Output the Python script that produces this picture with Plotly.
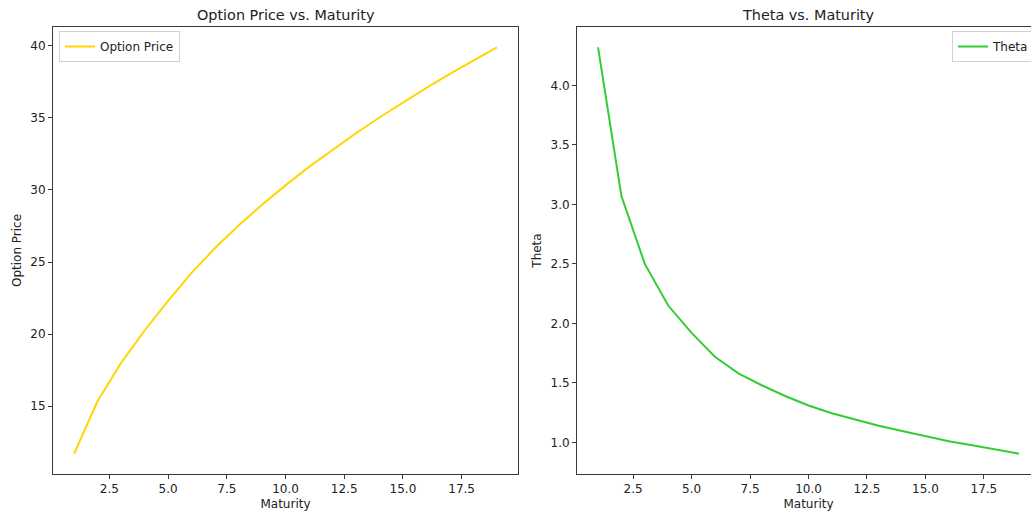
import plotly.graph_objects as go

# Option maturities (years) and the curves computed for each
maturity = list(range(1, 20))
option_price = [11.7, 15.35, 18.0, 20.25, 22.3, 24.25, 25.97, 27.53, 28.97, 30.32,
                31.6, 32.8, 33.94, 35.03, 36.08, 37.09, 38.06, 39.0, 39.9]
theta = [4.32, 3.07, 2.50, 2.15, 1.92, 1.72, 1.58, 1.48, 1.39, 1.31,
         1.245, 1.19, 1.14, 1.095, 1.05, 1.01, 0.975, 0.94, 0.905]

x_ticks = [2.5, 5.0, 7.5, 10.0, 12.5, 15.0, 17.5]
price_ticks = [15, 20, 25, 30, 35, 40]
theta_ticks = [1.0, 1.5, 2.0, 2.5, 3.0, 3.5, 4.0]

PRICE_COLOR = "#FFD700"
THETA_COLOR = "#32CD32"
FONT = "DejaVu Sans"
TEXT = "#222222"
SPINE = "#3a3a3a"


def padded(values, frac=0.05):
    lo, hi = min(values), max(values)
    pad = (hi - lo) * frac
    return [lo - pad, hi + pad]


W, H = 1050, 516
ML, MR, MT, MB = 53, 10, 27, 42
plot_w = W - ML - MR
plot_h = H - MT - MB
left_dom = [0.0, 465 / plot_w]
right_dom = [524 / plot_w, 1.0]

fig = go.Figure()
fig.add_trace(go.Scatter(x=maturity, y=option_price, mode="lines", name="Option Price",
                         line=dict(color=PRICE_COLOR, width=2), xaxis="x", yaxis="y",
                         legend="legend"))
fig.add_trace(go.Scatter(x=maturity, y=theta, mode="lines", name="Theta",
                         line=dict(color=THETA_COLOR, width=2), xaxis="x2", yaxis="y2",
                         legend="legend2"))

axis_common = dict(showline=True, linecolor=SPINE, linewidth=1, mirror=True,
                   ticks="outside", ticklen=4, tickwidth=1, tickcolor=SPINE,
                   showgrid=False, zeroline=False,
                   tickfont=dict(family=FONT, size=12, color=TEXT))

fig.update_layout(
    width=W, height=H,
    margin=dict(l=ML, r=MR, t=MT, b=MB, autoexpand=False),
    paper_bgcolor="white", plot_bgcolor="white",
    font=dict(family=FONT, size=12, color=TEXT),
    xaxis=dict(domain=left_dom, range=padded(maturity), tickvals=x_ticks,
               tickformat=".1f", anchor="y",
               title=dict(text="Maturity", standoff=4, font=dict(size=12)),
               **axis_common),
    yaxis=dict(domain=[0, 1], range=padded(option_price), tickvals=price_ticks,
               anchor="x",
               title=dict(text="Option Price", standoff=6, font=dict(size=12)),
               **axis_common),
    xaxis2=dict(domain=right_dom, range=padded(maturity), tickvals=x_ticks,
                tickformat=".1f", anchor="y2",
                title=dict(text="Maturity", standoff=4, font=dict(size=12)),
                **axis_common),
    yaxis2=dict(domain=[0, 1], range=padded(theta), tickvals=theta_ticks,
                tickformat=".1f", anchor="x2",
                title=dict(text="Theta", standoff=6, font=dict(size=12)),
                **axis_common),
    legend=dict(x=6 / plot_w, y=1 - 4 / plot_h, xanchor="left", yanchor="top",
                bgcolor="rgba(255,255,255,0.8)", bordercolor="#d0d0d0", borderwidth=1,
                font=dict(family=FONT, size=12, color=TEXT)),
    legend2=dict(x=(plot_w - 5) / plot_w, y=1 - 4 / plot_h, xanchor="right", yanchor="top",
                 bgcolor="rgba(255,255,255,0.8)", bordercolor="#d0d0d0", borderwidth=1,
                 font=dict(family=FONT, size=12, color=TEXT)),
    showlegend=True,
    annotations=[
        dict(text="Option Price vs. Maturity", x=sum(left_dom) / 2, y=1,
             xref="paper", yref="paper", xanchor="center", yanchor="middle",
             yshift=12, showarrow=False, font=dict(family=FONT, size=14.4, color=TEXT)),
        dict(text="Theta vs. Maturity", x=sum(right_dom) / 2, y=1,
             xref="paper", yref="paper", xanchor="center", yanchor="middle",
             yshift=12, showarrow=False, font=dict(family=FONT, size=14.4, color=TEXT)),
    ],
)

fig.write_html("out.html",
               post_script="document.body.style.margin='0';document.body.style.overflow='hidden';")
